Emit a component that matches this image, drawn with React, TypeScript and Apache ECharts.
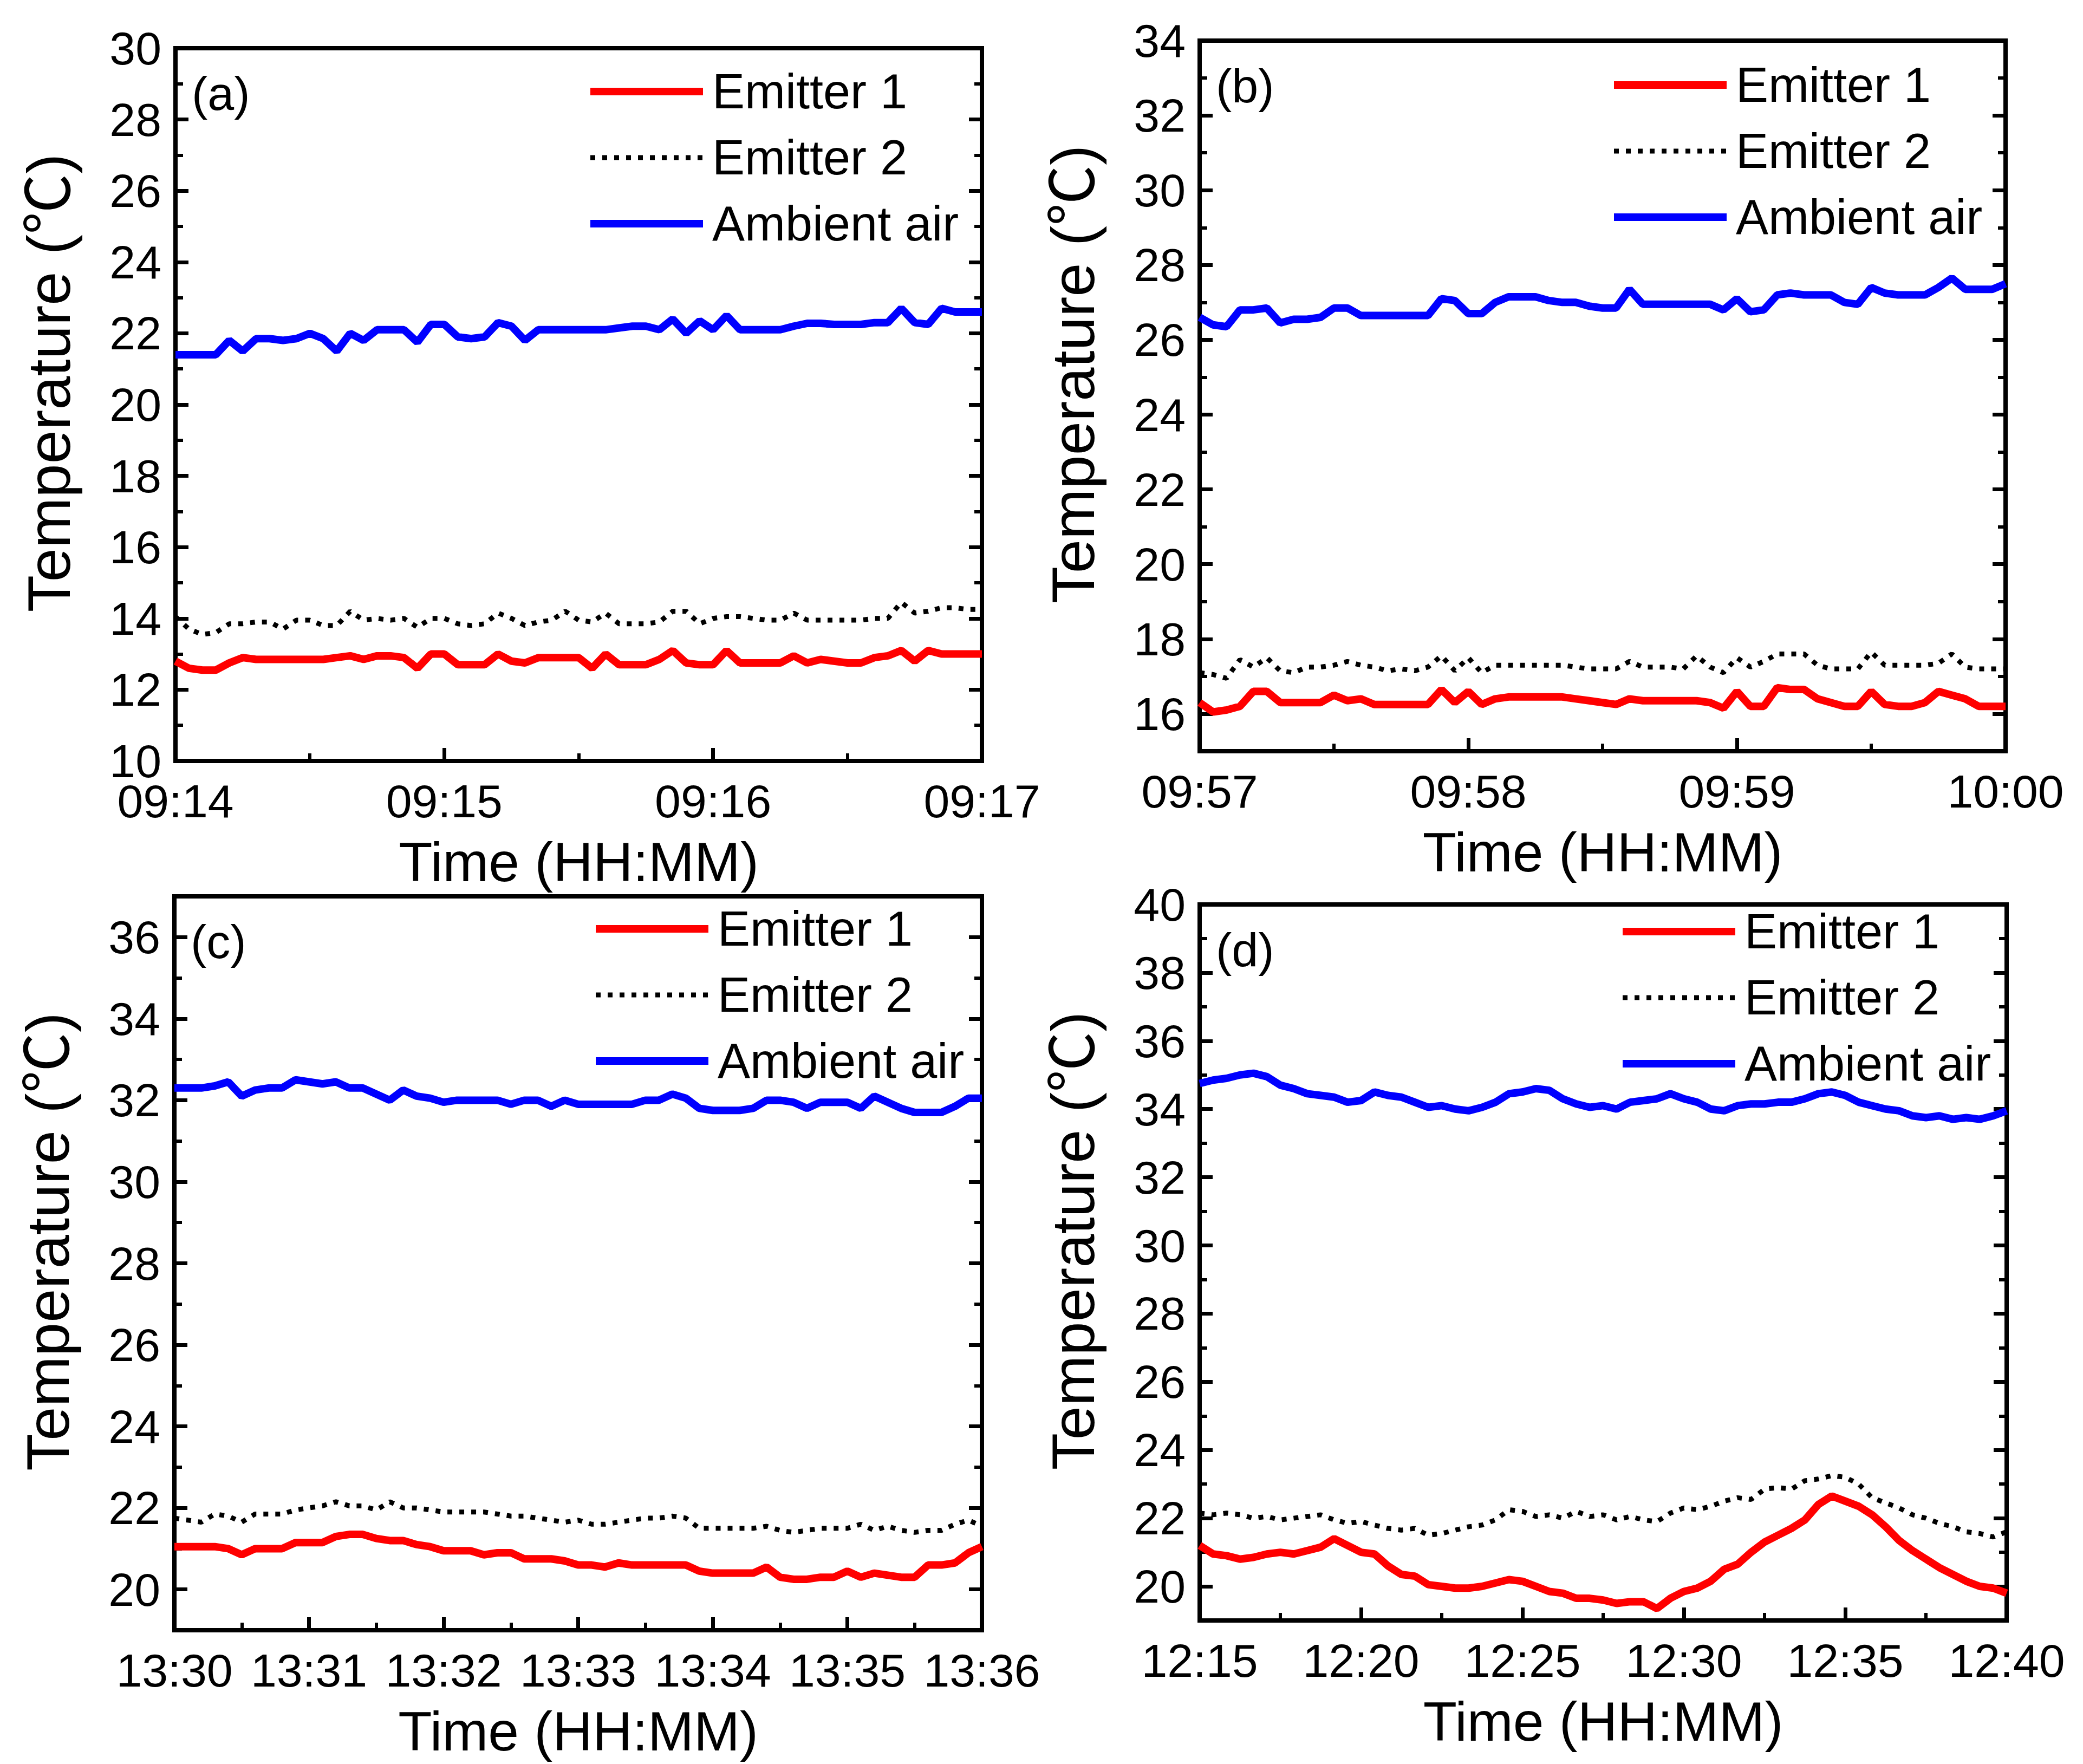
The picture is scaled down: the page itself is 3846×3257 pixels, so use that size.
import React, { useEffect, useRef } from "react";
import * as echarts from "echarts";

// ---------- data ----------
const seriesNames = ["Emitter 1", "Emitter 2", "Ambient air"];
const panelLabels = ["(a)", "(b)", "(c)", "(d)"];
const startMinutes = [554, 597, 810, 735]; // 09:14, 09:57, 13:30, 12:15
const sampleSeconds = [3, 3, 6, 25];
const spanSeconds = [180, 180, 360, 1500];
const tickSeconds = [60, 60, 60, 300];
const yMins = [10, 15, 19, 19];
const yMaxs = [30, 34, 37, 40];

const aEmitter1 = [12.8,12.6,12.55,12.55,12.75,12.9,12.85,12.85,12.85,12.85,12.85,12.85,12.9,12.95,12.85,12.95,12.95,12.9,12.6,13.0,13.0,12.7,12.7,12.7,13.0,12.8,12.75,12.9,12.9,12.9,12.9,12.6,13.0,12.7,12.7,12.7,12.85,13.1,12.75,12.7,12.7,13.1,12.75,12.75,12.75,12.75,12.95,12.75,12.85,12.8,12.75,12.75,12.9,12.95,13.1,12.8,13.1,13.0,13.0,13.0,13.0];
const aEmitter2 = [14.05,13.7,13.55,13.6,13.85,13.85,13.9,13.9,13.7,13.95,13.95,13.8,13.8,14.2,13.95,14.0,13.95,14.0,13.75,14.0,14.0,13.85,13.8,13.85,14.15,14.0,13.8,13.9,13.95,14.2,13.95,13.9,14.15,13.85,13.85,13.85,13.9,14.2,14.2,13.85,14.0,14.05,14.05,14.0,13.95,13.95,14.15,13.95,13.95,13.95,13.95,13.95,14.0,14.0,14.45,14.15,14.2,14.3,14.3,14.25,14.25];
const aAmbient = [21.4,21.4,21.4,21.4,21.8,21.5,21.85,21.85,21.8,21.85,22.0,21.85,21.5,22.0,21.8,22.1,22.1,22.1,21.75,22.25,22.25,21.9,21.85,21.9,22.3,22.2,21.8,22.1,22.1,22.1,22.1,22.1,22.1,22.15,22.2,22.2,22.1,22.4,22.0,22.35,22.1,22.5,22.1,22.1,22.1,22.1,22.2,22.28,22.28,22.25,22.25,22.25,22.3,22.3,22.7,22.3,22.25,22.7,22.6,22.6,22.6];

const bEmitter1 = [16.3,16.05,16.1,16.2,16.6,16.6,16.3,16.3,16.3,16.3,16.5,16.35,16.4,16.25,16.25,16.25,16.25,16.25,16.65,16.3,16.6,16.25,16.4,16.45,16.45,16.45,16.45,16.45,16.4,16.35,16.3,16.25,16.4,16.35,16.35,16.35,16.35,16.35,16.3,16.15,16.6,16.2,16.2,16.7,16.65,16.65,16.4,16.3,16.2,16.2,16.6,16.25,16.2,16.2,16.3,16.6,16.5,16.4,16.2,16.2,16.2];
const bEmitter2 = [17.1,17.05,16.95,17.45,17.25,17.5,17.15,17.1,17.25,17.25,17.3,17.4,17.3,17.25,17.15,17.2,17.15,17.25,17.55,17.15,17.5,17.1,17.3,17.3,17.3,17.3,17.3,17.3,17.25,17.2,17.2,17.2,17.4,17.25,17.25,17.25,17.2,17.55,17.25,17.1,17.5,17.25,17.4,17.6,17.6,17.6,17.3,17.2,17.2,17.2,17.65,17.3,17.3,17.3,17.3,17.35,17.6,17.25,17.2,17.2,17.2];
const bAmbient = [26.6,26.4,26.35,26.8,26.8,26.85,26.45,26.55,26.55,26.6,26.85,26.85,26.65,26.65,26.65,26.65,26.65,26.65,27.1,27.05,26.7,26.7,27.0,27.15,27.15,27.15,27.05,27.0,27.0,26.9,26.85,26.85,27.35,26.95,26.95,26.95,26.95,26.95,26.95,26.8,27.1,26.75,26.8,27.2,27.25,27.2,27.2,27.2,27.0,26.95,27.4,27.25,27.2,27.2,27.2,27.4,27.65,27.35,27.35,27.35,27.5];

const cEmitter1 = [21.05,21.05,21.05,21.05,21.0,20.85,21.0,21.0,21.0,21.15,21.15,21.15,21.3,21.35,21.35,21.25,21.2,21.2,21.1,21.05,20.95,20.95,20.95,20.85,20.9,20.9,20.75,20.75,20.75,20.7,20.6,20.6,20.55,20.65,20.6,20.6,20.6,20.6,20.6,20.45,20.4,20.4,20.4,20.4,20.55,20.3,20.25,20.25,20.3,20.3,20.45,20.3,20.4,20.35,20.3,20.3,20.6,20.6,20.65,20.9,21.05];
const cEmitter2 = [21.75,21.7,21.65,21.85,21.8,21.65,21.85,21.85,21.85,21.95,22.0,22.05,22.15,22.05,22.05,21.95,22.15,22.0,22.0,21.95,21.9,21.9,21.9,21.9,21.85,21.8,21.8,21.75,21.7,21.65,21.7,21.6,21.6,21.65,21.7,21.75,21.75,21.8,21.75,21.5,21.5,21.5,21.5,21.5,21.55,21.45,21.4,21.45,21.5,21.5,21.5,21.6,21.45,21.55,21.45,21.4,21.45,21.45,21.6,21.7,21.55];
const cAmbient = [32.3,32.3,32.3,32.35,32.45,32.1,32.25,32.3,32.3,32.5,32.45,32.4,32.45,32.3,32.3,32.15,32.0,32.25,32.1,32.05,31.95,32.0,32.0,32.0,32.0,31.9,32.0,32.0,31.85,32.0,31.9,31.9,31.9,31.9,31.9,32.0,32.0,32.15,32.05,31.8,31.75,31.75,31.75,31.8,32.0,32.0,31.95,31.8,31.95,31.95,31.95,31.8,32.1,31.95,31.8,31.7,31.7,31.7,31.85,32.05,32.05];

const dEmitter1 = [21.2,20.95,20.9,20.8,20.85,20.95,21.0,20.95,21.05,21.15,21.4,21.2,21.0,20.95,20.6,20.35,20.3,20.05,20.0,19.95,19.95,20.0,20.1,20.2,20.15,20.0,19.85,19.8,19.65,19.65,19.6,19.5,19.55,19.55,19.35,19.65,19.85,19.95,20.15,20.5,20.65,21.0,21.3,21.5,21.7,21.95,22.4,22.65,22.5,22.35,22.1,21.75,21.35,21.05,20.8,20.55,20.35,20.15,20.0,19.95,19.8];
const dEmitter2 = [22.15,22.1,22.15,22.1,22.0,22.05,21.95,22.0,22.05,22.1,21.95,21.85,21.9,21.8,21.7,21.65,21.7,21.5,21.55,21.65,21.75,21.8,21.95,22.25,22.2,22.05,22.1,22.0,22.2,22.05,22.1,21.95,22.05,21.95,21.9,22.15,22.3,22.25,22.35,22.5,22.6,22.55,22.85,22.9,22.85,23.1,23.15,23.25,23.2,23.0,22.6,22.45,22.3,22.1,22.0,21.85,21.75,21.6,21.55,21.45,21.6];
const dAmbient = [34.75,34.85,34.9,35.0,35.05,34.95,34.7,34.6,34.45,34.4,34.35,34.2,34.25,34.5,34.4,34.35,34.2,34.05,34.1,34.0,33.95,34.05,34.2,34.45,34.5,34.6,34.55,34.3,34.15,34.05,34.1,34.0,34.2,34.25,34.3,34.45,34.3,34.2,34.0,33.95,34.1,34.15,34.15,34.2,34.2,34.3,34.45,34.5,34.4,34.2,34.1,34.0,33.95,33.8,33.75,33.8,33.7,33.75,33.7,33.8,33.95];

const panelData = [
  [aEmitter1, aEmitter2, aAmbient],
  [bEmitter1, bEmitter2, bAmbient],
  [cEmitter1, cEmitter2, cAmbient],
  [dEmitter1, dEmitter2, dAmbient],
];

// ---------- layout / style ----------
const FONT = "'Liberation Sans', Arial, sans-serif";
const FONT_Y = "'Liberation Sans', Arial, 'Noto Sans CJK SC', sans-serif";

const grids = [
  { left: 324, top: 89, width: 1489, height: 1316 },
  { left: 2215, top: 75, width: 1488, height: 1312 },
  { left: 322, top: 1655, width: 1491, height: 1355 },
  { left: 2215, top: 1670, width: 1490, height: 1322 },
];
const legendPos = [
  { left: 1083, top: 124 },
  { left: 2973, top: 112 },
  { left: 1093, top: 1670 },
  { left: 2989, top: 1675 },
];
const lineStyles = [
  { color: "#ff0000", width: 14, type: "solid" as any },
  { color: "#000000", width: 9, type: [9, 13] as any },
  { color: "#0000ff", width: 14, type: "solid" as any },
];

const pad = (n: number) => (n < 10 ? "0" + n : String(n));
const fmtTime = (startMin: number, sec: number) => {
  const total = startMin + Math.round(sec / 60);
  const h = Math.floor(total / 60) % 24;
  const m = total % 60;
  return pad(h) + ":" + pad(m);
};

function buildOption() {
  const option: any = {
    animation: false,
    backgroundColor: "#ffffff",
    grid: [],
    xAxis: [],
    yAxis: [],
    series: [],
    legend: [],
    graphic: [],
  };
  const tick = { color: "#000", width: 7 };
  const minor = { color: "#000", width: 6 };
  grids.forEach((g, i) => {
    option.grid.push({
      ...g,
      show: true,
      borderColor: "#000",
      borderWidth: 8,
      backgroundColor: "transparent",
    });
    option.xAxis.push({
      gridIndex: i,
      type: "value",
      min: 0,
      max: spanSeconds[i],
      interval: tickSeconds[i],
      axisLine: { show: false },
      axisTick: { show: true, inside: true, length: 24, lineStyle: tick },
      minorTick: { show: true, splitNumber: 2, length: 14, lineStyle: minor },
      splitLine: { show: false },
      minorSplitLine: { show: false },
      axisLabel: {
        color: "#000",
        fontSize: 86,
        fontFamily: FONT,
        margin: 44,
        lineHeight: 60,
        formatter: (v: number) => fmtTime(startMinutes[i], v),
      },
      name: "Time (HH:MM)",
      nameLocation: "middle",
      nameGap: 136,
      nameTextStyle: { color: "#000", fontSize: 102, fontFamily: FONT },
    });
    const evens: number[] = [];
    const odds: number[] = [];
    for (let v = yMins[i]; v <= yMaxs[i]; v++) (v % 2 === 0 ? evens : odds).push(v);
    const base = { gridIndex: i, type: "value", min: yMins[i], max: yMaxs[i], axisLine: { show: false }, splitLine: { show: false } };
    option.yAxis.push({
      ...base,
      position: "left",
      axisTick: { show: true, inside: true, length: 24, customValues: evens, lineStyle: tick },
      axisLabel: { customValues: evens, color: "#000", fontSize: 86, lineHeight: 48, fontFamily: FONT, margin: 26 },
      name: "Temperature (℃)",
      nameLocation: "middle",
      nameGap: 178,
      nameTextStyle: { color: "#000", fontSize: 112, fontFamily: FONT_Y, padding: [0, 0, 0, 80] },
    });
    option.yAxis.push({
      ...base,
      position: "left",
      axisTick: { show: true, inside: true, length: 14, customValues: odds, lineStyle: minor },
      axisLabel: { show: false },
    });
    option.yAxis.push({
      ...base,
      position: "right",
      axisTick: { show: true, inside: true, length: 24, customValues: evens, lineStyle: tick },
      axisLabel: { show: false },
    });
    option.yAxis.push({
      ...base,
      position: "right",
      axisTick: { show: true, inside: true, length: 14, customValues: odds, lineStyle: minor },
      axisLabel: { show: false },
    });
    seriesNames.forEach((name, j) => {
      option.series.push({
        type: "line",
        name,
        xAxisIndex: i,
        yAxisIndex: 4 * i,
        data: panelData[i][j].map((v, k) => [k * sampleSeconds[i], v]),
        symbol: "none",
        clip: true,
        lineStyle: { ...lineStyles[j] },
        itemStyle: { color: lineStyles[j].color },
      });
    });
    option.legend.push({
      orient: "vertical",
      left: legendPos[i].left,
      top: legendPos[i].top,
      padding: 0,
      itemWidth: 208,
      itemHeight: 90,
      itemGap: 32,
      selectedMode: false,
      data: seriesNames.map((n, j) => ({
        name: n,
        lineStyle: { width: lineStyles[j].width, color: lineStyles[j].color, type: lineStyles[j].type },
        itemStyle: { color: "rgba(0,0,0,0)", opacity: 0, borderWidth: 0 },
      })),
      textStyle: { color: "#000", fontSize: 90, fontFamily: FONT, lineHeight: 90, padding: [0, 0, 0, 12] },
    });
    option.graphic.push({
      type: "text",
      x: g.left + 30,
      y: g.top + 83,
      style: { text: panelLabels[i], fontSize: 88, fontFamily: FONT, fill: "#000", verticalAlign: "middle" },
    });
  });
  return option;
}

export default function App() {
  const ref = useRef<HTMLDivElement>(null);
  useEffect(() => {
    if (!ref.current) return;
    const chart = echarts.init(ref.current, undefined, { renderer: "svg" });
    chart.setOption(buildOption());
    return () => chart.dispose();
  }, []);
  return (
    <div
      ref={ref}
      style={{ position: "absolute", left: 0, top: 0, width: 3846, height: 3257, background: "#fff" }}
    />
  );
}
